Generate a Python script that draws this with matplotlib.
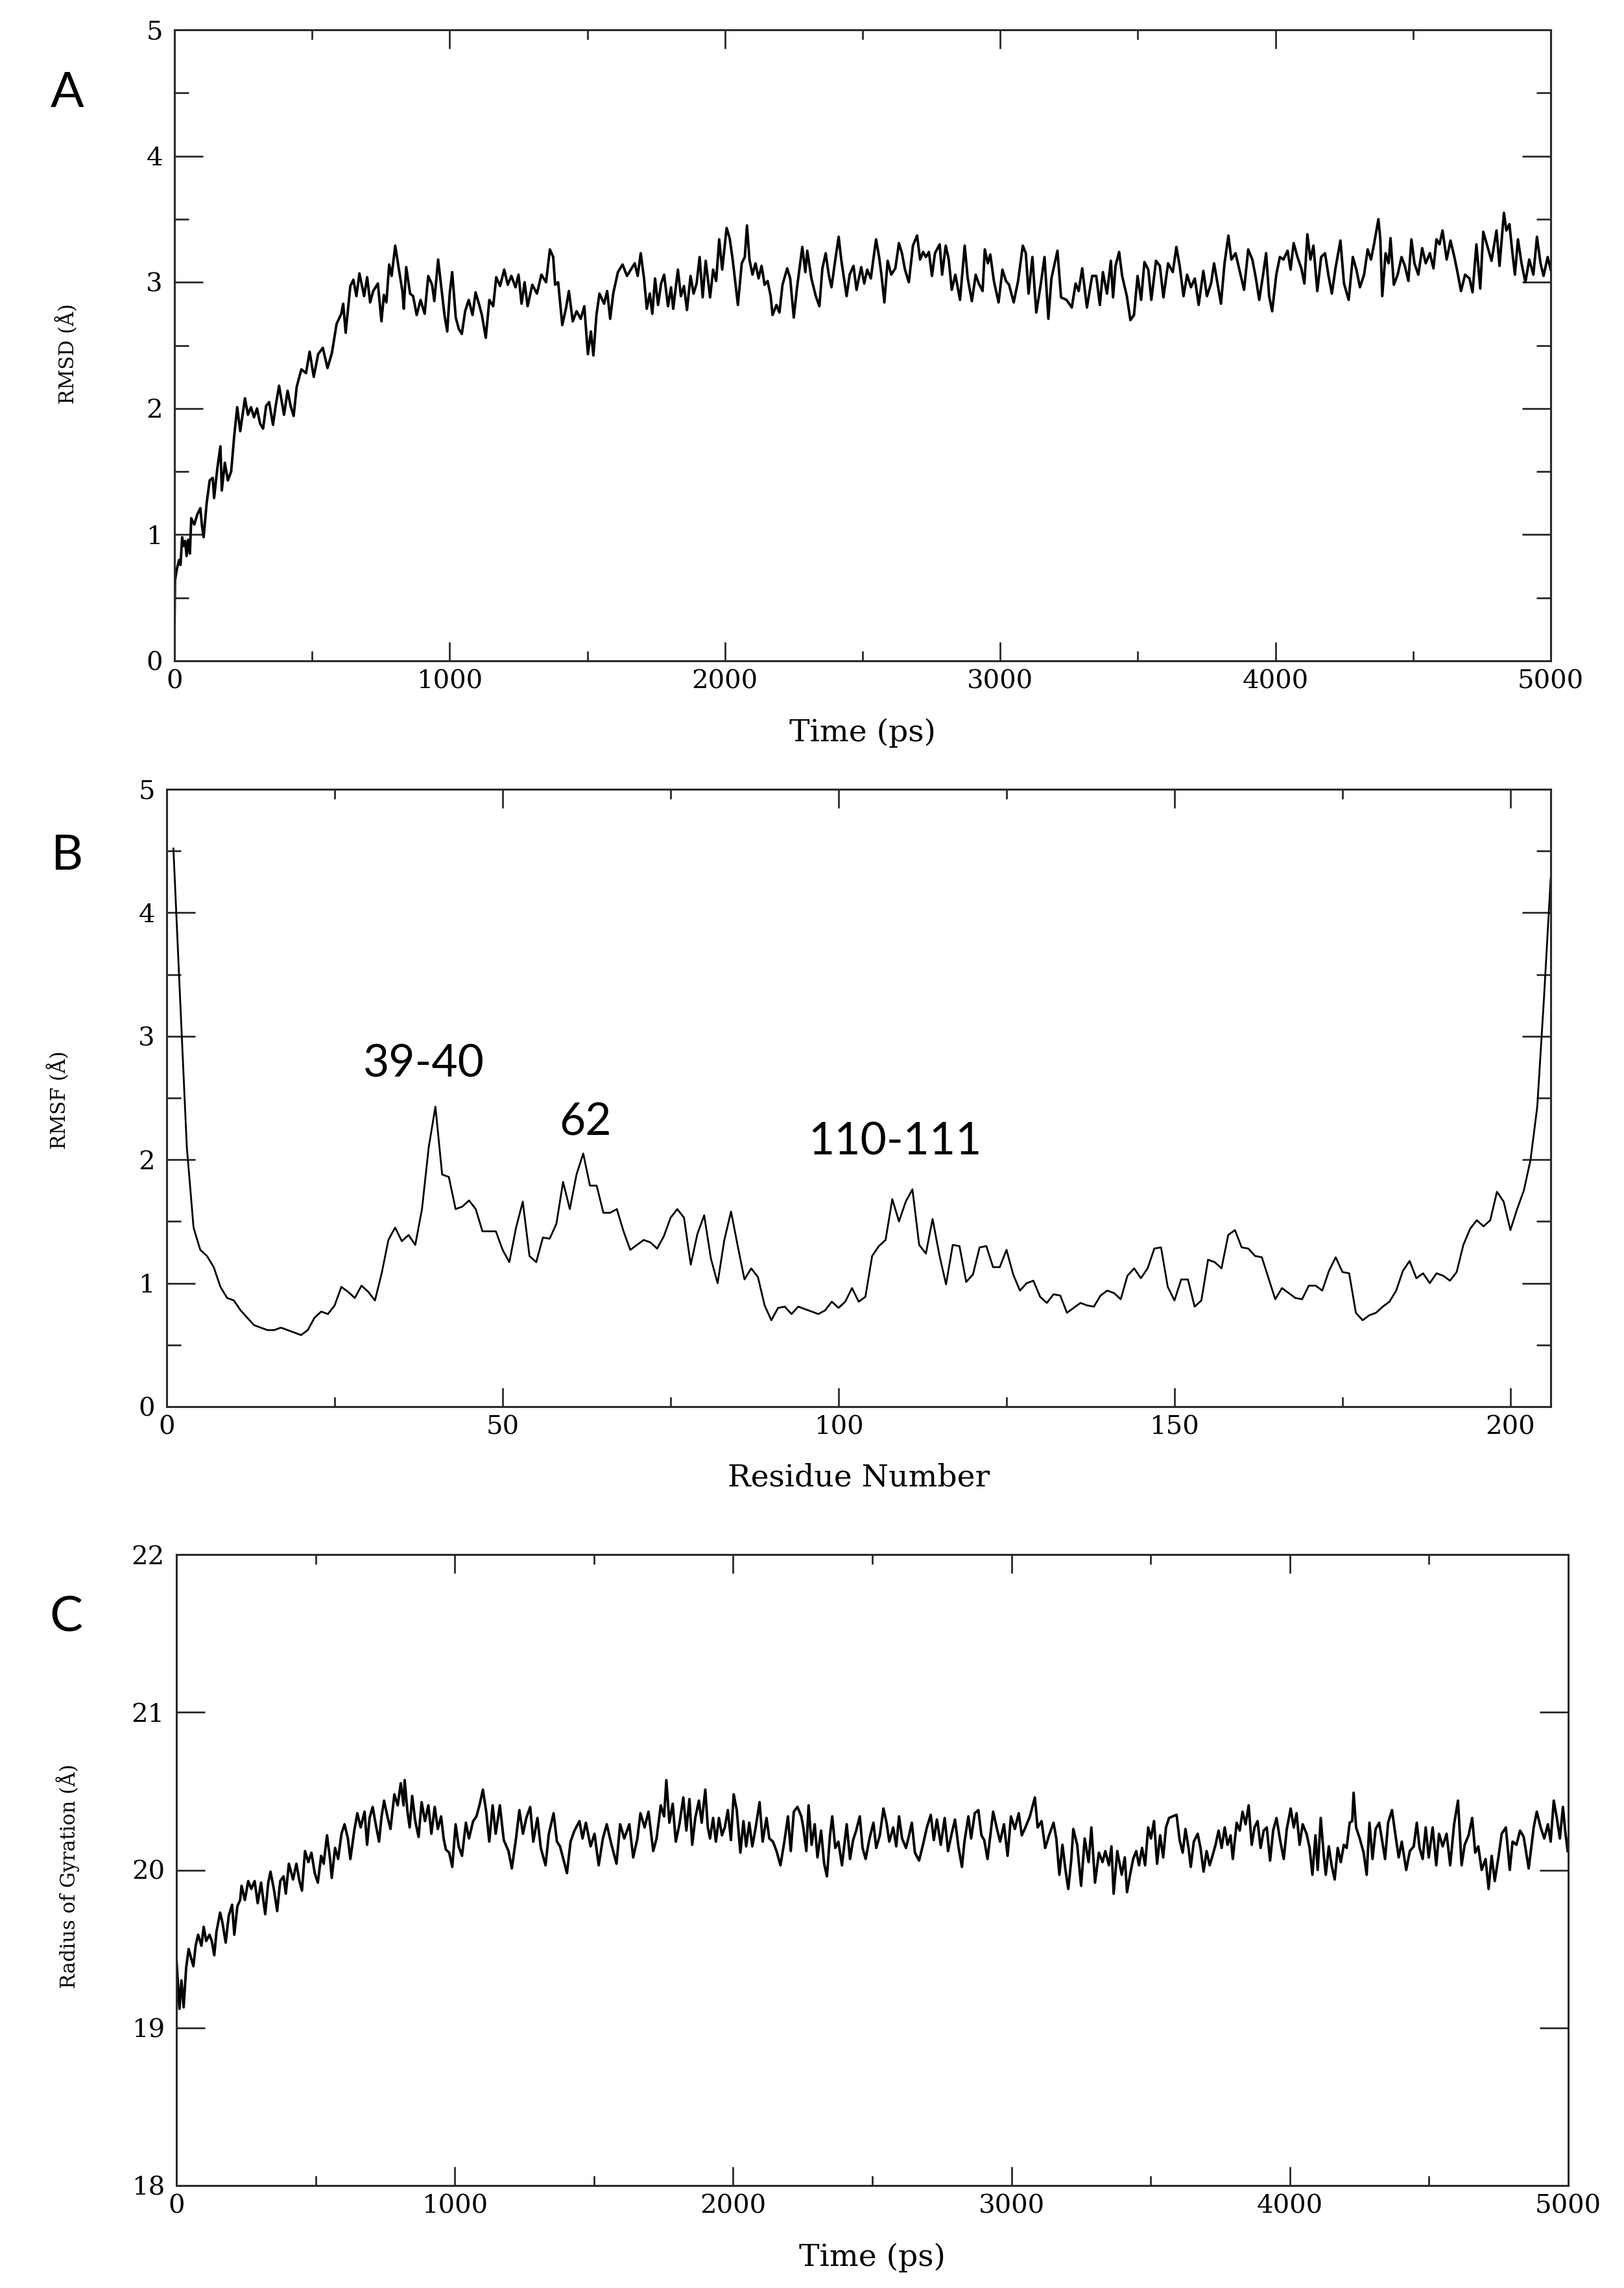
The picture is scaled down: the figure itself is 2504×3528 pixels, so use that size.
import numpy as np
import matplotlib
matplotlib.use("Agg")
import matplotlib.pyplot as plt
from matplotlib.ticker import MultipleLocator, NullLocator

# ---------------- data: RMSD (panel A) ----------------
rmsd_time = [
    0, 2, 9, 17, 22, 28, 33, 39, 44, 50, 56, 61, 72, 83, 94, 100, 106, 117, 128, 139,
    144, 156, 167, 172, 183, 194, 206, 217, 228, 239, 256, 267, 278, 289, 300, 311, 322, 333, 344, 358,
    367, 380, 398, 411, 422, 433, 444, 461, 478, 491, 506, 522, 539, 556, 572, 589, 606, 613, 622, 639,
    650, 661, 672, 689, 700, 711, 722, 739, 752, 761, 770, 780, 789, 802, 817, 828, 833, 842, 856, 867,
    880, 894, 909, 922, 936, 944, 958, 972, 981, 991, 1000, 1009, 1022, 1033, 1044, 1056, 1069, 1083, 1094, 1106,
    1117, 1131, 1144, 1158, 1169, 1183, 1198, 1211, 1224, 1239, 1250, 1261, 1272, 1283, 1300, 1317, 1333, 1350, 1364, 1376,
    1383, 1394, 1409, 1422, 1433, 1447, 1461, 1476, 1489, 1502, 1513, 1522, 1533, 1544, 1561, 1572, 1583, 1594, 1611, 1628,
    1644, 1658, 1672, 1683, 1694, 1706,
    1716, 1727, 1736, 1746, 1757, 1768, 1779, 1793, 1804, 1812, 1829, 1840, 1851, 1862, 1875, 1886, 1897, 1908, 1919, 1930,
    1946, 1957, 1968, 1979, 1990, 2006, 2017, 2028, 2036, 2047, 2061, 2072, 2080, 2089, 2100, 2111, 2122, 2133, 2144, 2155,
    2166, 2173, 2187, 2198, 2209, 2226, 2237, 2250, 2262, 2281, 2292, 2299, 2314, 2330, 2343, 2354, 2366, 2377, 2387, 2401,
    2413, 2423, 2442, 2453, 2467, 2478, 2495, 2506, 2517, 2530, 2539, 2549, 2560, 2569, 2579, 2591, 2604, 2619, 2632, 2643,
    2654, 2668, 2683, 2698, 2709, 2720, 2730, 2741, 2752, 2763, 2780, 2789, 2802, 2813, 2824, 2837, 2854, 2871, 2882, 2897,
    2911, 2922, 2936, 2944, 2955, 2964, 2977, 2994, 3008, 3021, 3032, 3049, 3065, 3082, 3093, 3103, 3117, 3131, 3147, 3161,
    3175, 3186, 3208, 3221, 3241, 3260, 3274, 3285, 3298, 3315, 3334,
    3349, 3362, 3373, 3388, 3402, 3410, 3419, 3432, 3443, 3460, 3473, 3486, 3499, 3512, 3524, 3538, 3549, 3566, 3580, 3593,
    3610, 3627, 3640, 3652, 3666, 3679, 3693, 3707, 3721, 3738, 3751, 3766, 3777, 3788, 3802, 3815, 3829, 3840, 3855, 3869,
    3886, 3901, 3916, 3929, 3941, 3955, 3966, 3977, 3988, 4003, 4016, 4029, 4044, 4055, 4066, 4080, 4094, 4105, 4116, 4127,
    4138, 4152, 4166, 4180, 4192, 4205, 4218, 4236, 4249, 4266, 4281, 4294, 4307, 4322, 4335, 4347, 4358, 4374, 4381, 4388,
    4400, 4411, 4418, 4430, 4444, 4458, 4470, 4483, 4494, 4505, 4519, 4533, 4546, 4561, 4574, 4585, 4596, 4607, 4622, 4636,
    4650, 4663, 4674, 4689, 4705, 4716, 4730, 4744, 4755, 4772, 4785, 4803, 4814, 4830, 4839, 4850, 4861, 4870, 4881, 4894,
    4908, 4922, 4937, 4950, 4963, 4974, 4989, 5000,
]
rmsd_value = [
    0.25, 0.64, 0.73, 0.80, 0.76, 0.98, 0.91, 0.95, 0.83, 0.96, 0.85, 1.13, 1.08, 1.16, 1.21, 1.07, 0.98, 1.25, 1.43, 1.45,
    1.29, 1.53, 1.70, 1.35, 1.57, 1.43, 1.50, 1.78, 2.01, 1.82, 2.08, 1.95, 2.01, 1.93, 2.00, 1.88, 1.84, 2.02, 2.05, 1.87,
    2.01, 2.18, 1.95, 2.14, 2.02, 1.94, 2.17, 2.31, 2.28, 2.45, 2.25, 2.43, 2.48, 2.32, 2.44, 2.67, 2.75, 2.83, 2.60, 2.97,
    3.02, 2.89, 3.07, 2.89, 3.04, 2.84, 2.93, 2.99, 2.69, 2.90, 2.84, 3.14, 3.05, 3.29, 3.08, 2.93, 2.79, 3.12, 2.91, 2.89,
    2.74, 2.86, 2.75, 3.05, 2.98, 2.85, 3.18, 2.91, 2.74, 2.61, 2.91, 3.08, 2.72, 2.63, 2.59, 2.77, 2.86, 2.74, 2.92, 2.83,
    2.74, 2.56, 2.86, 2.81, 3.04, 2.97, 3.10, 2.98, 3.05, 2.96, 3.06, 2.83, 3.00, 2.81, 2.98, 2.91, 3.06, 3.00, 3.26, 3.20,
    2.98, 3.00, 2.66, 2.79, 2.93, 2.69, 2.77, 2.71, 2.81, 2.43, 2.61, 2.42, 2.74, 2.91, 2.83, 2.93, 2.71, 2.91, 3.08, 3.14,
    3.05, 3.10, 3.15, 3.05, 3.23, 3.03,
    2.79, 2.91, 2.75, 3.03, 2.82, 2.99, 3.06, 2.81, 2.96, 2.79, 3.10, 2.89, 2.97, 2.78, 3.05, 2.91, 2.99, 3.20, 2.88, 3.17,
    2.88, 3.10, 3.01, 3.34, 3.10, 3.43, 3.35, 3.18, 3.03, 2.82, 3.15, 3.20, 3.45, 3.18, 3.06, 3.15, 3.03, 3.13, 2.98, 3.01,
    2.89, 2.74, 2.82, 2.76, 2.98, 3.11, 3.03, 2.72, 2.96, 3.28, 3.08, 3.25, 3.03, 2.89, 2.81, 3.11, 3.23, 3.06, 2.96, 3.18,
    3.36, 3.17, 2.89, 3.06, 3.13, 2.94, 3.12, 2.99, 3.10, 3.03, 3.18, 3.34, 3.20, 3.05, 2.84, 3.17, 3.06, 3.11, 3.31, 3.23,
    3.10, 3.00, 3.29, 3.37, 3.18, 3.24, 3.20, 3.24, 3.05, 3.23, 3.30, 3.06, 3.29, 3.18, 2.94, 3.06, 2.86, 3.29, 3.03, 2.85,
    3.06, 2.99, 2.93, 3.26, 3.15, 3.22, 3.01, 2.84, 3.10, 3.01, 2.98, 2.84, 3.01, 3.29, 3.23, 2.91, 3.20, 2.76, 2.98, 3.20,
    2.71, 3.03, 3.25, 2.88, 2.86, 2.80, 2.99, 2.93, 3.11, 2.80, 3.05,
    3.05, 2.82, 3.08, 2.91, 3.17, 2.88, 3.13, 3.24, 3.05, 2.89, 2.70, 2.74, 3.05, 2.86, 3.16, 3.10, 2.86, 3.17, 3.13, 2.88,
    3.15, 3.08, 3.28, 3.13, 2.89, 3.06, 2.96, 3.03, 2.82, 3.09, 2.89, 2.99, 3.15, 3.01, 2.83, 3.15, 3.37, 3.18, 3.23, 3.10,
    2.94, 3.26, 3.18, 3.03, 2.86, 3.06, 3.23, 2.89, 2.77, 3.06, 3.20, 3.18, 3.25, 3.10, 3.31, 3.20, 3.11, 2.99, 3.38, 3.18,
    3.29, 2.93, 3.20, 3.23, 3.06, 2.91, 3.11, 3.33, 2.99, 2.86, 3.20, 3.10, 2.96, 3.06, 3.26, 3.18, 3.30, 3.50, 3.34, 2.89,
    3.23, 3.15, 3.35, 2.98, 3.06, 3.20, 3.13, 3.01, 3.34, 3.15, 3.06, 3.27, 3.15, 3.23, 3.11, 3.34, 3.30, 3.41, 3.18, 3.33,
    3.20, 3.06, 2.93, 3.06, 3.03, 2.92, 3.30, 2.95, 3.40, 3.27, 3.17, 3.41, 3.13, 3.55, 3.41, 3.46, 3.23, 3.06, 3.34, 3.15,
    3.00, 3.18, 3.06, 3.36, 3.15, 3.05, 3.20, 3.10,
]

# ---------------- data: RMSF (panel B) ----------------
rmsf_value = [
    4.52, 3.30, 2.10, 1.45, 1.27, 1.22, 1.13, 0.97, 0.88, 0.86,
    0.78, 0.72, 0.66, 0.64, 0.62, 0.62, 0.64, 0.62, 0.60, 0.58,
    0.62, 0.72, 0.77, 0.75, 0.82, 0.97, 0.93, 0.88, 0.98, 0.93,
    0.86, 1.08, 1.35, 1.45, 1.34, 1.39, 1.31, 1.60, 2.10, 2.43,
    1.88, 1.86, 1.60, 1.62, 1.67, 1.60, 1.42, 1.42, 1.42, 1.27,
    1.17, 1.45, 1.66, 1.22, 1.17, 1.37, 1.36, 1.48, 1.82, 1.60,
    1.88, 2.05, 1.79, 1.79, 1.57, 1.57, 1.60, 1.42, 1.27, 1.31,
    1.35, 1.33, 1.28, 1.38, 1.53, 1.60, 1.53, 1.15, 1.40, 1.55,
    1.20, 1.00, 1.35, 1.58, 1.30, 1.03, 1.12, 1.05, 0.82, 0.70,
    0.80, 0.81, 0.75, 0.81, 0.79, 0.77, 0.75, 0.78, 0.85, 0.80,
    0.85, 0.96, 0.85, 0.89, 1.22, 1.30, 1.35, 1.68, 1.50, 1.66,
    1.76, 1.31, 1.24, 1.52, 1.23, 0.99, 1.31, 1.30, 1.01, 1.07,
    1.29, 1.30, 1.13, 1.13, 1.27, 1.07, 0.94, 1.00, 1.02, 0.89,
    0.84, 0.91, 0.90, 0.76, 0.80, 0.84, 0.82, 0.81, 0.90, 0.94,
    0.92, 0.87, 1.06, 1.12, 1.04, 1.12, 1.28, 1.29, 0.97, 0.86,
    1.03, 1.03, 0.81, 0.86, 1.19, 1.17, 1.12, 1.39, 1.43, 1.29,
    1.28, 1.22, 1.21, 1.04, 0.87, 0.96, 0.92, 0.88, 0.87, 0.98,
    0.98, 0.94, 1.10, 1.21, 1.09, 1.08, 0.76, 0.70, 0.74, 0.76,
    0.81, 0.85, 0.94, 1.10, 1.18, 1.04, 1.08, 1.00, 1.08, 1.06,
    1.02, 1.09, 1.31, 1.44, 1.51, 1.46, 1.51, 1.74, 1.66, 1.43,
    1.60, 1.75, 2.00, 2.43, 3.31, 4.28,
]
rmsf_residue = list(range(1, len(rmsf_value) + 1))

rmsf_labels = ["39-40", "62", "110-111"]
rmsf_label_x = [38.3, 62.3, 108.4]
rmsf_label_y = [2.67, 2.20, 2.04]

# ---------------- data: Radius of gyration (panel C) ----------------
rg_time = [
    0, 7, 11, 18, 26, 35, 44, 53, 61, 69, 78, 90, 98, 107, 119, 127, 136, 144, 157, 165,
    177, 188, 200, 208, 219, 229, 234, 246, 258, 269, 281, 292, 304, 319, 330, 338, 350, 362, 373, 385,
    393, 404, 419, 431, 442, 451, 462, 474, 485, 497, 508, 520, 529, 541, 552, 558, 570, 581, 593, 604,
    616, 625, 639, 650, 662, 676, 685, 694, 705, 716, 728, 737, 746, 758, 769, 783, 795, 806, 816, 820,
    830, 838, 847, 858, 870, 881, 893, 905, 916, 928, 939, 951, 960, 968, 980, 991, 1003, 1014, 1026, 1040,
    1051, 1066, 1078, 1090, 1101, 1113, 1124, 1136, 1147, 1162, 1176, 1193, 1205, 1220, 1232, 1245, 1257, 1271, 1282, 1297,
    1309, 1326, 1338, 1355, 1367, 1378, 1390, 1403, 1416, 1430, 1448, 1459, 1471, 1488, 1502, 1517, 1532, 1546, 1563, 1581,
    1594, 1609, 1627, 1641, 1656, 1667, 1682, 1696, 1713, 1725, 1740, 1752, 1760, 1771, 1783, 1794,
    1807, 1821, 1832, 1843, 1853, 1864, 1877, 1887, 1900, 1909, 1917, 1928, 1938, 1949, 1960, 1970, 1981, 1992, 2002, 2013,
    2026, 2037, 2047, 2058, 2069, 2081, 2095, 2106, 2120, 2130, 2143, 2156, 2170, 2184, 2197, 2207, 2218, 2231, 2245, 2252,
    2263, 2271, 2282, 2293, 2303, 2316, 2327, 2337, 2348, 2356, 2367, 2378, 2391, 2408, 2420, 2431, 2442, 2455, 2465, 2476,
    2490, 2504, 2514, 2527, 2540, 2551, 2561, 2575, 2586, 2596, 2607, 2621, 2632, 2642, 2653, 2668, 2682, 2696, 2710, 2721,
    2732, 2746, 2760, 2772, 2785, 2797, 2810, 2822, 2831, 2845, 2855, 2868, 2881, 2892, 2902, 2914, 2924, 2934, 2948, 2959,
    2973, 2986, 2998, 3012, 3026, 3037, 3050, 3066, 3084, 3094, 3108, 3121, 3135, 3151, 3161, 3172, 3183, 3194, 3204, 3215,
    3222, 3236, 3250, 3263, 3277, 3287, 3300, 3314, 3327, 3337, 3350, 3359, 3367, 3380, 3396, 3407,
    3415, 3426, 3437, 3448, 3458, 3469, 3480, 3491, 3501, 3512, 3523, 3534, 3545, 3555, 3566, 3579, 3593, 3604, 3615, 3625,
    3636, 3644, 3655, 3669, 3679, 3690, 3701, 3712, 3722, 3733, 3744, 3755, 3766, 3776, 3787, 3795, 3809, 3820, 3830, 3841,
    3852, 3863, 3873, 3884, 3895, 3906, 3917, 3929, 3940, 3952, 3965, 3978, 3989, 4003, 4014, 4024, 4035, 4046, 4060, 4071,
    4081, 4092, 4100, 4111, 4121, 4129, 4140, 4150, 4161, 4172, 4183, 4194, 4204, 4215, 4224, 4229, 4238, 4251, 4265, 4276,
    4286, 4297, 4308, 4321, 4332, 4342, 4353, 4367, 4377, 4391, 4402, 4418, 4431, 4445, 4456, 4466, 4477, 4488, 4499, 4513,
    4526, 4536, 4549, 4563, 4576, 4590, 4604, 4617, 4628, 4642, 4655, 4666, 4677, 4689, 4703, 4714, 4725, 4736, 4750, 4761,
    4776, 4790, 4800, 4814, 4827, 4840, 4858, 4876, 4887, 4901, 4914, 4927, 4937, 4948, 4959, 4970, 4981, 4989, 4998,
]
rg_value = [
    19.44, 19.24, 19.12, 19.30, 19.13, 19.38, 19.50, 19.44, 19.39, 19.52, 19.59, 19.52, 19.64, 19.55, 19.59, 19.55, 19.46, 19.61, 19.73, 19.67,
    19.54, 19.71, 19.78, 19.59, 19.77, 19.81, 19.90, 19.81, 19.93, 19.88, 19.93, 19.79, 19.92, 19.72, 19.92, 19.99, 19.88, 19.74, 19.93, 19.96,
    19.85, 20.04, 19.94, 20.04, 19.93, 19.87, 20.12, 20.05, 20.11, 19.98, 19.92, 20.09, 20.04, 20.22, 20.07, 19.95, 20.14, 20.07, 20.23, 20.29,
    20.20, 20.07, 20.25, 20.36, 20.27, 20.37, 20.16, 20.33, 20.40, 20.29, 20.18, 20.34, 20.44, 20.34, 20.26, 20.48, 20.41, 20.55, 20.41, 20.57,
    20.37, 20.27, 20.47, 20.31, 20.21, 20.43, 20.31, 20.41, 20.23, 20.40, 20.26, 20.34, 20.20, 20.13, 20.11, 20.02, 20.29, 20.15, 20.09, 20.30,
    20.20, 20.31, 20.34, 20.42, 20.51, 20.37, 20.18, 20.41, 20.23, 20.41, 20.19, 20.12, 20.01, 20.20, 20.38, 20.23, 20.33, 20.40, 20.18, 20.33,
    20.14, 20.03, 20.23, 20.36, 20.18, 20.15, 20.07, 19.98, 20.18, 20.25, 20.31, 20.20, 20.30, 20.15, 20.23, 20.03, 20.20, 20.29, 20.16, 20.04,
    20.29, 20.20, 20.29, 20.08, 20.20, 20.36, 20.27, 20.37, 20.12, 20.20, 20.41, 20.34, 20.57, 20.30, 20.42, 20.18,
    20.29, 20.46, 20.25, 20.45, 20.16, 20.33, 20.44, 20.30, 20.51, 20.27, 20.20, 20.33, 20.18, 20.33, 20.22, 20.27, 20.38, 20.19, 20.48, 20.38,
    20.11, 20.31, 20.15, 20.30, 20.15, 20.27, 20.43, 20.18, 20.33, 20.20, 20.18, 20.12, 20.03, 20.18, 20.34, 20.12, 20.37, 20.40, 20.34, 20.27,
    20.12, 20.41, 20.16, 20.29, 20.08, 20.25, 20.04, 19.96, 20.22, 20.34, 20.14, 20.18, 20.03, 20.29, 20.07, 20.19, 20.25, 20.34, 20.14, 20.07,
    20.20, 20.30, 20.14, 20.22, 20.39, 20.30, 20.18, 20.27, 20.15, 20.34, 20.20, 20.14, 20.22, 20.30, 20.11, 20.06, 20.16, 20.27, 20.35, 20.19,
    20.32, 20.16, 20.33, 20.12, 20.23, 20.32, 20.14, 20.02, 20.18, 20.34, 20.20, 20.36, 20.38, 20.22, 20.19, 20.07, 20.22, 20.37, 20.26, 20.18,
    20.29, 20.09, 20.34, 20.26, 20.36, 20.22, 20.27, 20.34, 20.46, 20.27, 20.31, 20.14, 20.22, 20.30, 20.20, 19.97, 20.16, 20.00, 19.88, 20.07,
    20.26, 20.16, 19.90, 20.20, 20.05, 20.27, 19.92, 20.11, 20.05, 20.12, 20.03, 20.15, 19.85, 20.12, 19.97, 20.08,
    19.86, 19.97, 20.07, 20.12, 20.03, 20.14, 20.03, 20.27, 20.20, 20.31, 20.04, 20.22, 20.08, 20.27, 20.33, 20.34, 20.35, 20.19, 20.11, 20.26,
    20.14, 20.02, 20.18, 20.23, 20.14, 19.99, 20.12, 20.03, 20.09, 20.16, 20.25, 20.14, 20.27, 20.16, 20.22, 20.07, 20.30, 20.25, 20.37, 20.29,
    20.41, 20.16, 20.27, 20.31, 20.14, 20.25, 20.27, 20.06, 20.25, 20.33, 20.19, 20.07, 20.26, 20.39, 20.27, 20.36, 20.16, 20.29, 20.23, 20.14,
    19.97, 20.22, 20.00, 20.33, 20.11, 19.97, 20.15, 20.03, 19.94, 20.14, 20.05, 20.16, 20.14, 20.30, 20.31, 20.49, 20.27, 20.20, 20.11, 19.97,
    20.30, 20.07, 20.26, 20.30, 20.18, 20.07, 20.30, 20.38, 20.25, 20.08, 20.18, 20.00, 20.12, 20.15, 20.30, 20.14, 20.07, 20.27, 20.08, 20.27,
    20.03, 20.23, 20.15, 20.23, 20.03, 20.29, 20.44, 20.03, 20.16, 20.22, 20.33, 20.11, 20.15, 20.00, 20.07, 19.88, 20.09, 19.93, 20.09, 20.23,
    20.27, 20.00, 20.18, 20.16, 20.25, 20.21, 20.01, 20.27, 20.37, 20.27, 20.20, 20.29, 20.18, 20.44, 20.33, 20.20, 20.40, 20.25, 20.12,
]

# ---------------- figure ----------------
W, H = 2504, 3528
DPI = 100
fig = plt.figure(figsize=(W / DPI, H / DPI), dpi=DPI, facecolor="white")

def px_axes(left, right, top, bottom):
    return fig.add_axes([left / W, 1 - bottom / H, (right - left) / W, (bottom - top) / H])

axA = px_axes(269, 2391, 46, 1019)
axB = px_axes(257, 2391, 1217, 2169)
axC = px_axes(272, 2418, 2397, 3370)

SERIF = ["DejaVu Serif"]
TICK_FS = 29
XLABEL_FS = 34
YLABEL_FS = 22
LINE_C = "black"
SPINE_C = "#2a2a2a"

def style(ax, xlim, ylim, xmaj, xmin, ymaj, ymin, xlabel, ylabel, ylab_y):
    ax.set_xlim(*xlim)
    ax.set_ylim(*ylim)
    ax.xaxis.set_major_locator(MultipleLocator(xmaj))
    ax.xaxis.set_minor_locator(MultipleLocator(xmin))
    ax.yaxis.set_major_locator(MultipleLocator(ymaj))
    if ymin:
        ax.yaxis.set_minor_locator(MultipleLocator(ymin))
    else:
        ax.yaxis.set_minor_locator(NullLocator())
    for s in ax.spines.values():
        s.set_linewidth(2.2)
        s.set_color(SPINE_C)
    ax.tick_params(axis="both", which="both", direction="in", top=True, right=True,
                   color=SPINE_C, width=2.0, labelsize=TICK_FS)
    ax.tick_params(axis="x", which="major", length=21, pad=10)
    ax.tick_params(axis="x", which="minor", length=11)
    ax.tick_params(axis="y", which="major", length=32, pad=13)
    ax.tick_params(axis="y", which="minor", length=16)
    for lab in ax.get_xticklabels() + ax.get_yticklabels():
        lab.set_family(SERIF)
    ax.set_xlabel(xlabel, family=SERIF, fontsize=XLABEL_FS, va="center")
    ax.xaxis.set_label_coords(0.5, -111 / 973)
    ax.set_ylabel(ylabel, family=SERIF, fontsize=YLABEL_FS, va="center")
    ax.yaxis.set_label_coords(-0.078, ylab_y)

# Panel A
axA.plot(rmsd_time, rmsd_value, color=LINE_C, lw=2.8)
style(axA, (0, 5000), (0, 5), 1000, 500, 1, 0.5, "Time (ps)", "RMSD (Å)", 0.487)

# Panel B
axB.plot(rmsf_residue, rmsf_value, color=LINE_C, lw=2.0)
style(axB, (0, 206), (0, 5), 50, 25, 1, 0.5, "Residue Number", "RMSF (Å)", 0.497)
axB.xaxis.set_label_coords(0.5, -110 / 952)
for txt, x, y in zip(rmsf_labels, rmsf_label_x, rmsf_label_y):
    axB.text(x, y, txt, ha="center", va="baseline", fontsize=50,
             family=["Lato", "DejaVu Sans"], color="black")

# Panel C
axC.plot(rg_time, rg_value, color=LINE_C, lw=2.8)
style(axC, (0, 5000), (18, 22), 1000, 500, 1, None, "Time (ps)", "Radius of Gyration (Å)", 0.49)

# Panel letters
for letter, x, y in [("A", 104, 165), ("B", 104, 1341), ("C", 102, 2515)]:
    fig.text(x / W, 1 - y / H, letter, ha="center", va="baseline", fontsize=55,
             family=["Lato", "DejaVu Sans"], color="black")

fig.savefig("out.png", dpi=DPI, facecolor="white")
